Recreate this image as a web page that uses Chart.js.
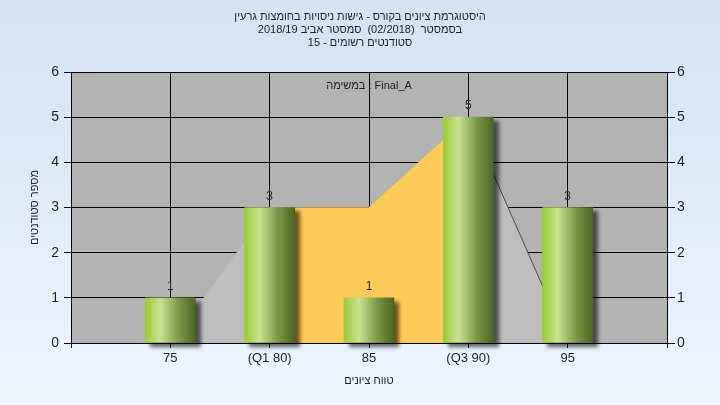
<!DOCTYPE html>
<html lang="he">
<head>
<meta charset="utf-8">
<title>Histogram</title>
<script src="https://cdn.jsdelivr.net/npm/chart.js@4.4.1/dist/chart.umd.min.js"></script>
<style>
    html, body { margin: 0; padding: 0; background: #e3edf9; }
    #wrap { width: 720px; height: 405px; }
</style>
</head>
<body>
<div id="wrap"><canvas id="hist" width="720" height="405"></canvas></div>
<script>
// נתוני ההיסטוגרמה
const categories = ['75', '(Q1 80)', '85', '(Q3 90)', '95'];
const counts = [1, 3, 1, 5, 3];
const envelope = [0, 3, 3, 5, 0];          // שטח אפור ברקע
const quartileBand = [null, 3, 3, 5, null]; // שטח כתום בין Q1 ל-Q3
const yMin = 0;
const yMax = 6;

const titleLines = [
    'היסטוגרמת ציונים בקורס - גישות ניסויות בחומצות גרעין',
    'בסמסטר  (02/2018)  סמסטר אביב 2018/19',
    'סטודנטים רשומים - 15'
];
const taskLabel = 'במשימה : Final_A';
const xTitle = 'טווח ציונים';
const yTitle = 'מספר סטודנטים';

const fontFamily = "'Liberation Sans', Arial, sans-serif";
Chart.defaults.font.family = fontFamily;
Chart.defaults.color = '#1e1e28';

const toPoints = arr => arr.map((v, i) => ({ x: i + 1, y: v }));

// רקע הדף ואזור הגרף
const backdrop = {
    id: 'backdrop',
    beforeDraw(chart) {
        const { ctx, chartArea: a, width, height } = chart;
        ctx.save();
        const g = ctx.createLinearGradient(0, 0, 0, height);
        g.addColorStop(0, '#d5e2f3');
        g.addColorStop(1, '#eef5fd');
        ctx.fillStyle = g;
        ctx.fillRect(0, 0, width, height);
        ctx.fillStyle = '#b3b3b3';
        ctx.fillRect(a.left, a.top, a.right - a.left, a.bottom - a.top);
        ctx.restore();
    },
    afterDraw(chart) {
        const { ctx, chartArea: a } = chart;
        ctx.save();
        ctx.strokeStyle = '#000';
        ctx.lineWidth = 1;
        ctx.beginPath();
        ctx.moveTo(a.left, Math.round(a.top) + 0.5);
        ctx.lineTo(a.right + 1, Math.round(a.top) + 0.5);
        ctx.stroke();

        // כותרות
        ctx.fillStyle = '#1e1e28';
        ctx.font = '11px ' + fontFamily;
        ctx.textAlign = 'center';
        ctx.textBaseline = 'middle';
        ctx.direction = 'rtl';
        titleLines.forEach((t, i) => ctx.fillText(t, 360, 17 + i * 13));
        ctx.direction = 'ltr';
        ctx.fillText(taskLabel, (a.left + a.right) / 2, a.top + 14);
        ctx.restore();
    }
};

// צל לעמודות
const barShadow = {
    id: 'barShadow',
    beforeDatasetDraw(chart, args) {
        if (args.index !== 0) return;
        const ctx = chart.ctx;
        ctx.save();
        ctx.shadowColor = 'rgba(0,0,0,0.6)';
        ctx.shadowBlur = 4;
        ctx.shadowOffsetX = 5;
        ctx.shadowOffsetY = 4;
    },
    afterDatasetDraw(chart, args) {
        if (args.index !== 0) return;
        chart.ctx.restore();
    }
};

// מספרים מעל העמודות
const valueLabels = {
    id: 'valueLabels',
    afterDatasetsDraw(chart) {
        const { ctx } = chart;
        const meta = chart.getDatasetMeta(0);
        ctx.save();
        ctx.fillStyle = '#2a2a3a';
        ctx.font = '12px ' + fontFamily;
        ctx.textAlign = 'center';
        ctx.textBaseline = 'middle';
        meta.data.forEach((bar, i) => ctx.fillText(String(counts[i]), bar.x, bar.y - 11));
        ctx.restore();
    }
};

function barGradient(context) {
    const chart = context.chart;
    if (!chart.chartArea || context.dataIndex === undefined) return '#9ccc3c';
    const x = chart.scales.x.getPixelForValue(context.dataIndex + 1);
    const g = chart.ctx.createLinearGradient(x - 25, 0, x + 25, 0);
    g.addColorStop(0, '#9acb35');
    g.addColorStop(0.3, '#c9e48f');
    g.addColorStop(0.65, '#7f9a4c');
    g.addColorStop(1, '#4a6620');
    return g;
}

new Chart(document.getElementById('hist'), {
    data: {
        datasets: [
            {
                type: 'bar',
                data: toPoints(counts),
                backgroundColor: barGradient,
                borderWidth: 0,
                barThickness: 50,
                clip: false,
                order: 0
            },
            {
                type: 'line',
                data: toPoints(quartileBand),
                fill: 'origin',
                backgroundColor: '#ffcb58',
                borderWidth: 0,
                pointRadius: 0,
                spanGaps: false,
                order: 1
            },
            {
                type: 'line',
                data: toPoints(envelope),
                fill: 'origin',
                backgroundColor: '#bebebe',
                borderWidth: 1,
                borderColor: 'rgba(0,0,0,0)',
                segment: {
                    borderColor: ctx => ctx.p0DataIndex === 3 ? '#4a4a4a' : 'rgba(0,0,0,0)'
                },
                pointRadius: 0,
                order: 2
            }
        ]
    },
    options: {
        responsive: false,
        animation: false,
        layout: { padding: { top: 72, left: 0, right: 0, bottom: 0 } },
        plugins: {
            legend: { display: false },
            tooltip: { enabled: false }
        },
        scales: {
            x: {
                type: 'linear',
                position: 'bottom',
                offset: false,
                min: 0,
                max: 6,
                ticks: {
                    stepSize: 1,
                    padding: 3,
                    color: '#1e1e28',
                    font: { size: 13 },
                    maxRotation: 0,
                    autoSkip: false,
                    callback: v => categories[v - 1] || ''
                },
                grid: { color: '#000', tickLength: 5, offset: false },
                border: { color: '#000' },
                title: {
                    display: true,
                    text: xTitle,
                    color: '#1e1e28',
                    font: { size: 11 },
                    padding: { top: 0, bottom: 17 }
                },
                afterFit: s => { s.height = 62; }
            },
            y: {
                position: 'left',
                min: yMin,
                max: yMax,
                ticks: { stepSize: 1, padding: 5, color: '#1e1e28', font: { size: 14 } },
                grid: { color: '#000', tickLength: 7 },
                border: { color: '#000' },
                title: {
                    display: true,
                    text: yTitle,
                    color: '#1e1e28',
                    font: { size: 11 },
                    padding: { top: 28, bottom: 0 }
                },
                afterFit: s => { s.width = 71; }
            },
            y2: {
                position: 'right',
                min: yMin,
                max: yMax,
                ticks: { stepSize: 1, padding: 2, color: '#1e1e28', font: { size: 14 } },
                grid: { drawOnChartArea: false, color: '#000', tickLength: 8 },
                border: { color: '#000' },
                afterFit: s => { s.width = 53; }
            }
        }
    },
    plugins: [backdrop, barShadow, valueLabels]
});
</script>
</body>
</html>
